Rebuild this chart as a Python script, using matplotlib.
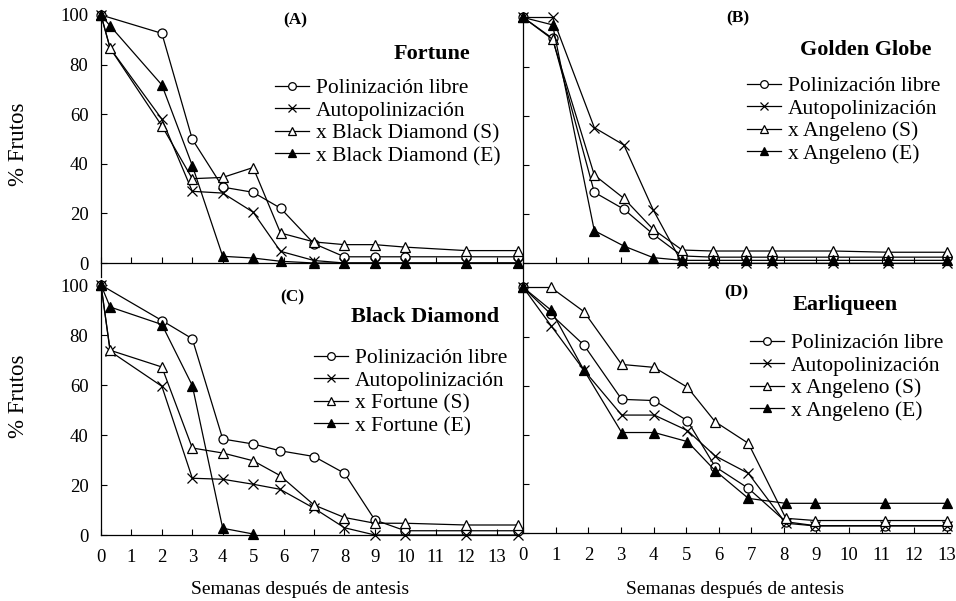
import matplotlib.pyplot as plt

plt.rcParams['font.family'] = ['Liberation Serif', 'DejaVu Serif']

# series names (same order in every panel)
libre = 'Polinización libre'
auto = 'Autopolinización'

# (A) Fortune
xa = [0, 0.3, 2, 3, 4, 5, 5.9, 7, 8, 9, 10, 12, 13.7]
xa_libre = [0, 2, 3, 4, 5, 5.9, 7, 8, 9, 10, 12, 13.7]
a_libre = [100, 92.6, 49.9, 30.6, 28.5, 22.1, 7.8, 2.5, 2.5, 2.5, 2.5, 2.5]
a_auto = [100, 86.6, 58.0, 28.9, 28.2, 20.5, 4.7, 1.0, 0, 0, 0, 0, 0]
a_s = [100, 86.6, 55.3, 34.0, 34.5, 38.5, 12.1, 8.5, 7.4, 7.4, 6.4, 5.0, 5.0]
a_e = [100, 95.6, 71.8, 39.3, 2.7, 2.0, 0.7, 0, 0, 0, 0, 0, 0]

# (B) Golden Globe
xb = [0, 0.9, 2.18, 3.09, 3.99, 4.88, 5.81, 6.83, 7.63, 9.52, 11.21, 13.0]
b_libre = [100, 91.5, 28.9, 22.0, 11.8, 3.0, 2.5, 2.5, 2.5, 2.5, 2.5, 2.5]
b_auto = [100, 100, 55.2, 48.1, 21.7, 0, 0, 0, 0, 0, 0, 0]
b_s = [100, 91.1, 35.9, 26.4, 13.8, 5.4, 5.0, 5.0, 5.0, 5.0, 4.5, 4.5]
b_e = [100, 97.0, 13.3, 7.0, 2.3, 1.2, 1.2, 1.2, 1.2, 1.2, 1.2, 1.2]

# (C) Black Diamond
xc = [0, 0.3, 2, 3, 4, 5, 5.88, 7, 8, 9, 10, 12, 13.7]
xc_libre = [0, 2, 3, 4, 5, 5.88, 7, 8, 9, 10, 12, 13.7]
c_libre = [100, 85.8, 78.5, 38.4, 36.4, 33.7, 31.4, 24.7, 6.0, 1.7, 1.7, 1.7]
c_auto = [100, 73.5, 59.5, 22.7, 22.3, 20.3, 18.3, 10.7, 2.9, 0, 0, 0, 0]
c_s = [100, 73.9, 67.2, 34.8, 32.8, 29.7, 23.8, 12.0, 7.0, 4.7, 4.7, 4.0, 4.0]
xc_e = [0, 0.3, 2, 3, 4, 5]
c_e = [100, 91.2, 84.2, 59.8, 2.7, 0.4]

# (D) Earliqueen
xd = [0, 0.85, 1.86, 3.02, 4.02, 5.04, 5.89, 6.91, 8.06, 8.96, 11.1, 13.0]
d_libre = [100, 89.1, 76.6, 54.5, 54.0, 45.8, 27.1, 18.3, 4.7, 3.1, 3.1, 3.1]
d_auto = [100, 84.5, 66.4, 48.1, 48.1, 41.8, 31.5, 24.4, 4.1, 3.0, 3.0, 3.0]
d_s = [100, 100, 90.2, 68.7, 67.5, 59.4, 45.4, 36.6, 6.1, 5.2, 5.2, 5.2]
d_e = [100, 90.8, 66.4, 41.0, 41.0, 37.3, 25.5, 14.2, 12.2, 12.2, 12.2, 12.2]

W, H = 956, 601
fig = plt.figure(figsize=(W / 100, H / 100), dpi=100)


def px(x, y):
    return x / W, 1 - y / H


def make_ax(x0, xunit, xmax, y0, yunit, ymin, ymax):
    bottom_px = y0 - ymin * yunit
    top_px = y0 - ymax * yunit
    ax = fig.add_axes([x0 / W, 1 - bottom_px / H, xmax * xunit / W,
                       (bottom_px - top_px) / H])
    ax.set_xlim(0, xmax)
    ax.set_ylim(ymin, ymax)
    ax.patch.set_alpha(0)
    for s in ['top', 'right']:
        ax.spines[s].set_visible(False)
    ax.spines['bottom'].set_position(('data', 0))
    for s in ['left', 'bottom']:
        ax.spines[s].set_linewidth(0.9)
    ax.set_xticks(range(14))
    ax.set_yticks(range(0, 101, 20))
    ax.tick_params(direction='in', length=4, width=0.8, labelsize=13.5)
    ax.tick_params(axis='x', pad=10)
    ax.tick_params(axis='y', pad=9)
    return ax


def draw(ax, x1, y1, x2, y2, x3, y3, x4, y4, names, leg_xy):
    kw = dict(color='black', lw=0.9, mec='black', mew=0.9, clip_on=False)
    ax.plot(x1, y1, marker='o', mfc='white', ms=6.5, label=names[0], **kw)
    ax.plot(x2, y2, marker='x', ms=7, label=names[1], **kw)
    ax.plot(x3, y3, marker='^', mfc='white', ms=7, label=names[2], **kw)
    ax.plot(x4, y4, marker='^', mfc='black', ms=7, label=names[3], **kw)
    ax.legend(loc='upper left', bbox_to_anchor=px(*leg_xy),
              bbox_transform=fig.transFigure, frameon=False, fontsize=15.5,
              handlelength=1.6, handletextpad=0.3, labelspacing=0.12,
              borderpad=0, borderaxespad=0, markerscale=0.85)


ax_a = make_ax(101, 30.43, 13.75, 263, 2.48, -5.5, 102)
ax_b = make_ax(523.3, 32.57, 13.1, 263.3, 2.458, -8, 102)
ax_c = make_ax(101, 30.43, 13.75, 535, 2.5, 0, 102)
ax_d = make_ax(523.3, 32.57, 13.1, 533.3, 2.458, 0, 102)

draw(ax_a, xa_libre, a_libre, xa, a_auto, xa, a_s, xa, a_e,
     [libre, auto, 'x Black Diamond (S)', 'x Black Diamond (E)'], (275, 78))
draw(ax_b, xb, b_libre, xb, b_auto, xb, b_s, xb, b_e,
     [libre, auto, 'x Angeleno (S)', 'x Angeleno (E)'], (747, 76))
draw(ax_c, xc_libre, c_libre, xc, c_auto, xc, c_s, xc_e, c_e,
     [libre, auto, 'x Fortune (S)', 'x Fortune (E)'], (314, 348))
draw(ax_d, xd, d_libre, xd, d_auto, xd, d_s, xd, d_e,
     [libre, auto, 'x Angeleno (S)', 'x Angeleno (E)'], (750, 333))

ax_a.tick_params(labelbottom=False)
ax_b.tick_params(labelbottom=False, labelleft=False)
ax_d.tick_params(labelleft=False)

# panel letters and cultivar names
for txt, x, y in [('(A)', 295, 20), ('(B)', 738, 18), ('(C)', 292, 297), ('(D)', 736, 292)]:
    fig.text(*px(x, y), txt, ha='center', va='center', fontsize=12.5, fontweight='bold')
for txt, x, y in [('Fortune', 470, 54), ('Golden Globe', 931, 50),
                  ('Black Diamond', 499, 317), ('Earliqueen', 898, 305)]:
    fig.text(*px(x, y), txt, ha='right', va='center', fontsize=16, fontweight='bold')

# axis titles
for y in [144, 396]:
    fig.text(*px(18.5, y), '% Frutos', rotation=90, ha='center', va='center', fontsize=16.5)
for x in [300, 735]:
    fig.text(*px(x, 590), 'Semanas después de antesis', ha='center', va='center', fontsize=14)

fig.savefig('out.png', dpi=100)
